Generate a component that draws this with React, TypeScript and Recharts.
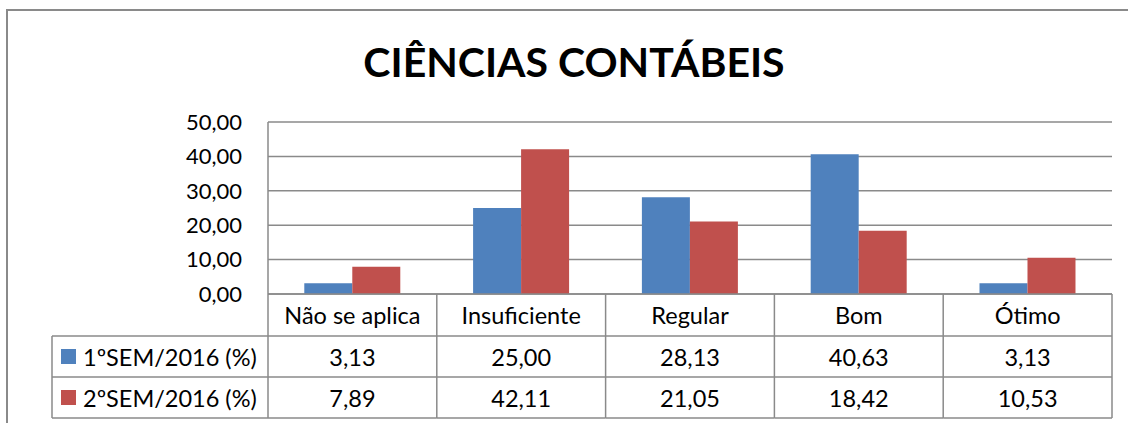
import { BarChart, Bar, XAxis, YAxis, CartesianGrid } from 'recharts'

const categories = ['Não se aplica', 'Insuficiente', 'Regular', 'Bom', 'Ótimo']
const sem1 = [3.13, 25.0, 28.13, 40.63, 3.13]
const sem2 = [7.89, 42.11, 21.05, 18.42, 10.53]
const yTicks = [0, 10, 20, 30, 40, 50]
const seriesNames = ['1ºSEM/2016 (%)', '2ºSEM/2016 (%)']
const colors = ['#4F81BD', '#C0504D']

const W = 1128
const H = 423
const PLOT_LEFT = 268
const PLOT_RIGHT = 1112
const BAND = (PLOT_RIGHT - PLOT_LEFT) / categories.length
const ROWS = [0, 42, 83, 124]
const LEGEND_LEFT = 52
const LINE = '#8a8a8a'
const FONT = 'Lato, "Open Sans", sans-serif'

const fmt = (v: number) => v.toFixed(2).replace('.', ',')

const data = categories.map((name, i) => ({ name, s1: sem1[i], s2: sem2[i] }))

function TableTick(props: any) {
  const { x, y, payload, index } = props
  const left = x - BAND / 2
  const right = x + BAND / 2
  const values = [sem1[index], sem2[index]]
  const mid = (a: number, b: number) => y + (ROWS[a] + ROWS[b]) / 2
  return (
    <g fontFamily={FONT} fontSize={23.5} fill="#000">
      <line x1={right} x2={right} y1={y} y2={y + ROWS[3]} stroke={LINE} strokeWidth={1.5} />
      {index === 0 && (
        <g>
          <line x1={left} x2={left} y1={y} y2={y + ROWS[3]} stroke={LINE} strokeWidth={1.5} />
          <line x1={LEGEND_LEFT} x2={LEGEND_LEFT} y1={y + ROWS[1]} y2={y + ROWS[3]} stroke={LINE} strokeWidth={1.5} />
          {[1, 2, 3].map((r) => (
            <line key={r} x1={LEGEND_LEFT} x2={left} y1={y + ROWS[r]} y2={y + ROWS[r]} stroke={LINE} strokeWidth={1.5} />
          ))}
          {seriesNames.map((s, r) => (
            <g key={s}>
              <rect x={61} y={mid(r + 1, r + 2) - 7.5} width={15} height={15} fill={colors[r]} />
              <text x={83} y={mid(r + 1, r + 2)} dominantBaseline="central" fill="#000">
                {s}
              </text>
            </g>
          ))}
        </g>
      )}
      {[1, 2, 3].map((r) => (
        <line key={r} x1={left} x2={right} y1={y + ROWS[r]} y2={y + ROWS[r]} stroke={LINE} strokeWidth={1.5} />
      ))}
      <text x={x} y={mid(0, 1)} textAnchor="middle" dominantBaseline="central" fill="#000">
        {payload.value}
      </text>
      {values.map((v, r) => (
        <text key={r} x={x} y={mid(r + 1, r + 2)} textAnchor="middle" dominantBaseline="central" fill="#000">
          {fmt(v)}
        </text>
      ))}
    </g>
  )
}

export default function App() {
  return (
    <div style={{ position: 'absolute', left: 0, top: 0, width: W, height: H, background: '#fff' }}>
      <BarChart
        width={W}
        height={H}
        data={data}
        margin={{ top: 122, right: W - PLOT_RIGHT, bottom: 0, left: 0 }}
        barCategoryGap="21.5%"
        barGap={0}
      >
        <CartesianGrid vertical={false} stroke={LINE} strokeWidth={1.5} />
        <YAxis
          width={PLOT_LEFT}
          domain={[0, 50]}
          ticks={yTicks}
          tickFormatter={fmt}
          tickLine={false}
          tickSize={0}
          tickMargin={26}
          axisLine={{ stroke: LINE, strokeWidth: 1.5 }}
          tick={{ fill: '#000', fontSize: 22, fontFamily: FONT }}
        />
        <XAxis
          dataKey="name"
          height={129}
          tickLine={false}
          tickSize={0}
          tickMargin={0}
          axisLine={{ stroke: LINE, strokeWidth: 1.5 }}
          tick={<TableTick />}
          interval={0}
        />
        <Bar dataKey="s1" name={seriesNames[0]} fill={colors[0]} isAnimationActive={false} />
        <Bar dataKey="s2" name={seriesNames[1]} fill={colors[1]} isAnimationActive={false} />
      </BarChart>
      <svg width={W} height={H} style={{ position: 'absolute', left: 0, top: 0, pointerEvents: 'none' }}>
        <rect x={7} y={10} width={1130} height={420} fill="none" stroke={LINE} strokeWidth={2} />
        <text x={574} y={77} textAnchor="middle" fontFamily={FONT} fontWeight="bold" fontSize={41} fill="#000">
          CIÊNCIAS CONTÁBEIS
        </text>
      </svg>
    </div>
  )
}
